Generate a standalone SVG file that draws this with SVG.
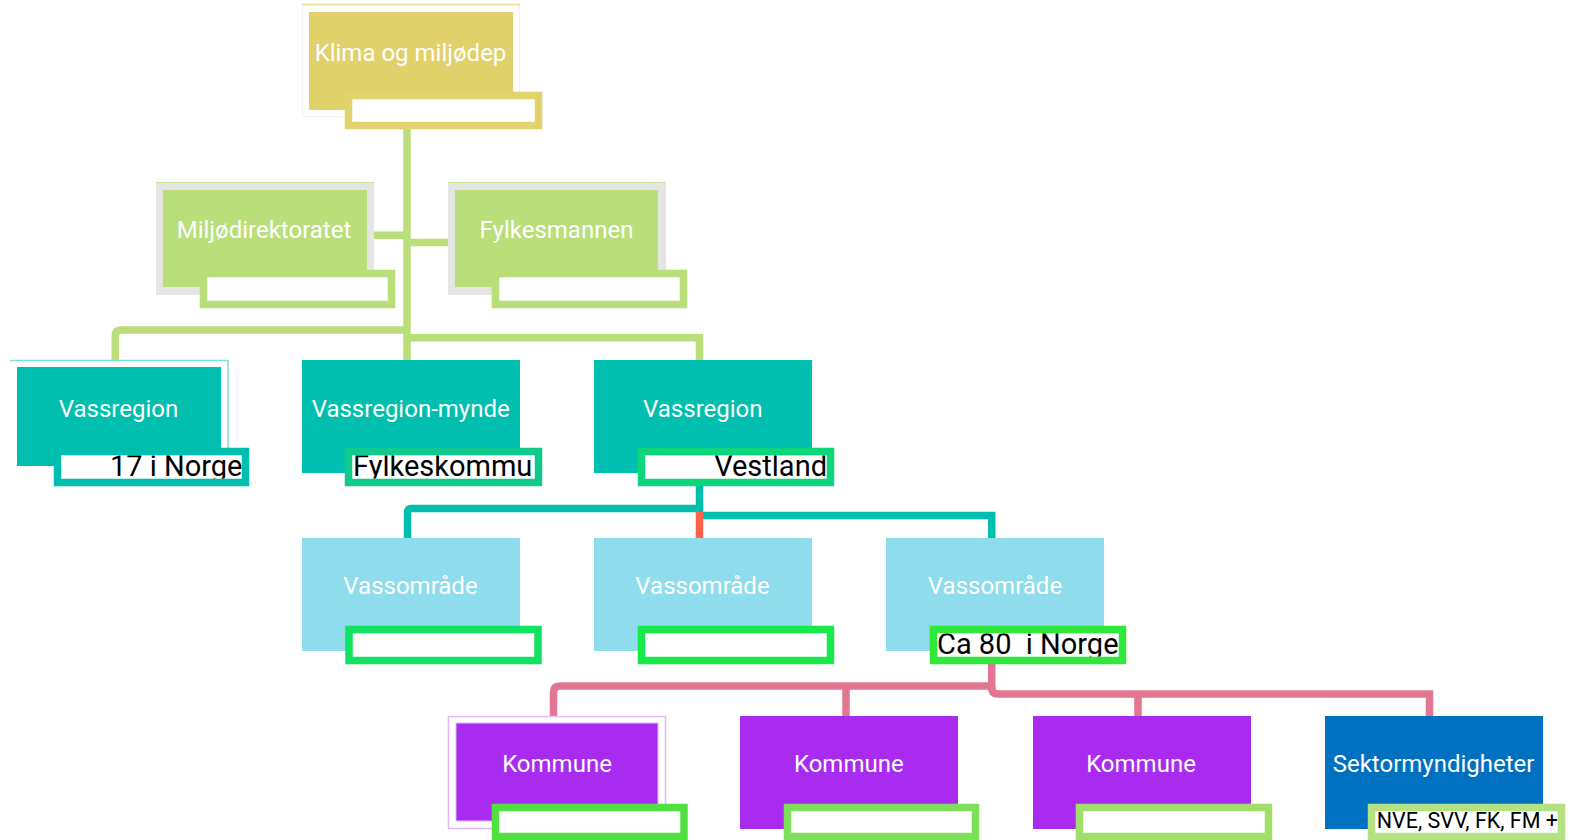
<svg xmlns="http://www.w3.org/2000/svg" width="1569" height="840" viewBox="0 0 1569 840">
<style>
.lbl{font-family:Roboto,"Liberation Sans",sans-serif;font-size:24px;fill:#ffffff;text-anchor:middle}
.sub{font-family:Roboto,"Liberation Sans",sans-serif;font-size:29px;fill:#000000;white-space:pre}
.box{fill:#ffffff;stroke-width:7.5}
.con{fill:none;stroke-width:7.5}
.g{stroke:#b9de7a}
.t{stroke:#00bfae}
.p{stroke:#e27590}
</style>
<defs>
<clipPath id="c1"><rect x="61" y="455.5" width="181.5" height="23"/></clipPath>
<clipPath id="c2"><rect x="352.5" y="455.5" width="182.5" height="23"/></clipPath>
<clipPath id="c3"><rect x="645" y="455.5" width="182" height="23"/></clipPath>
<clipPath id="c4"><rect x="937" y="633.5" width="182" height="23"/></clipPath>
<clipPath id="c5"><rect x="1375.5" y="811" width="182.5" height="22.5"/></clipPath>
</defs>
<rect width="1569" height="840" fill="#ffffff"/>

<g id="connectors">
<path class="con g" d="M407 129 V360"/>
<path class="con g" d="M366 235.3 H407"/>
<path class="con g" d="M407 242.5 H456"/>
<path class="con g" d="M407 330 H121.5 Q115.3 330 115.3 336 V361"/>
<path class="con g" d="M407 337.7 H699.5 V361"/>
<path class="con t" d="M699.5 485 V508.5 H412 Q407.5 508.5 407.5 513 V539"/>
<path class="con t" d="M699.5 515.5 H991.7 V539"/>
<path d="M699.5 512 V538" stroke="#fe6349" stroke-width="7.5" fill="none"/>
<path class="con p" d="M991.7 663 V686 H560 Q553.5 686 553.5 692.5 V717"/>
<path class="con p" d="M846 686 V717"/>
<path class="con p" d="M991.7 686 V688 Q991.7 694 998 694 H1429.5 V717"/>
<path class="con p" d="M1138 694 V717"/>
</g>

<g id="n-klima">
<rect x="302.5" y="4.5" width="217" height="112" fill="none" stroke="#f2f2f2" stroke-width="1"/>
<line x1="302" y1="4.5" x2="520" y2="4.5" stroke="#e8dc8a" stroke-width="1.5"/>
<rect x="309" y="12" width="204" height="98" fill="#e0d16a"/>
<text class="lbl" x="410.5" y="61">Klima og miljødep</text>
<rect class="box" x="348.5" y="95.5" width="190" height="30" stroke="#e1d46e"/>
</g>

<g id="n-miljodir">
<rect x="156" y="182" width="218" height="113" fill="#e5e6e4"/>
<line x1="156" y1="182.5" x2="374" y2="182.5" stroke="#c8e69a" stroke-width="1"/>
<rect x="163" y="190" width="204" height="97" fill="#b9de7a"/>
<text class="lbl" x="264" y="238">Miljødirektoratet</text>
<rect class="box" x="203.5" y="273.5" width="188" height="31" stroke="#b9de7a"/>
</g>

<g id="n-fylkesmannen">
<rect x="448" y="182" width="218" height="113" fill="#e5e6e4"/>
<line x1="448" y1="182.5" x2="666" y2="182.5" stroke="#c8e69a" stroke-width="1"/>
<rect x="455" y="190" width="203" height="97" fill="#b9de7a"/>
<text class="lbl" x="556.5" y="238">Fylkesmannen</text>
<rect class="box" x="495.5" y="273.5" width="188" height="31" stroke="#b9de7a"/>
</g>

<g id="n-vassregion-l">
<path d="M10 360.5 H228 V448" fill="none" stroke="#7fe0d6" stroke-width="1.5"/>
<rect x="17" y="367" width="204" height="99" fill="#00bfae"/>
<text class="lbl" x="118.5" y="416.7">Vassregion</text>
<rect class="box" x="57.5" y="451.5" width="188" height="31" stroke="#00bfae"/>
<text class="sub" x="242.5" y="476" text-anchor="end" clip-path="url(#c1)">17 i Norge</text>
</g>

<g id="n-vassregion-mynde">
<rect x="302" y="360" width="218" height="113" fill="#00bfae"/>
<text class="lbl" x="410.7" y="416.7">Vassregion-mynde</text>
<rect class="box" x="348.5" y="451.5" width="190" height="31" stroke="#0fc98d"/>
<text class="sub" x="353" y="476" clip-path="url(#c2)">Fylkeskommu</text>
</g>

<g id="n-vassregion-r">
<rect x="594" y="360" width="218" height="113" fill="#00bfae"/>
<text class="lbl" x="702.8" y="416.7">Vassregion</text>
<rect class="box" x="641.5" y="451.5" width="189" height="31" stroke="#0dd67b"/>
<text class="sub" x="827" y="476" text-anchor="end" clip-path="url(#c3)">Vestland</text>
</g>

<g id="n-vassomrade-1">
<rect x="302" y="538" width="218" height="113" fill="#8fdcec"/>
<text class="lbl" x="410.5" y="594">Vassområde</text>
<rect class="box" x="349" y="629.5" width="189" height="31" stroke="#12e262"/>
</g>

<g id="n-vassomrade-2">
<rect x="594" y="538" width="218" height="113" fill="#8fdcec"/>
<text class="lbl" x="702.5" y="594">Vassområde</text>
<rect class="box" x="641.5" y="629.5" width="189" height="31" stroke="#18e84a"/>
</g>

<g id="n-vassomrade-3">
<rect x="886" y="538" width="218" height="113" fill="#8fdcec"/>
<text class="lbl" x="995" y="594">Vassområde</text>
<rect class="box" x="933.5" y="629.5" width="189" height="31" stroke="#30e83c"/>
<text class="sub" x="937" y="654" clip-path="url(#c4)">Ca 80  i Norge</text>
</g>

<g id="n-kommune-1">
<rect x="448.5" y="716.5" width="217" height="112" fill="none" stroke="#e3b8f8" stroke-width="1.5"/>
<rect x="456" y="723" width="202" height="98" fill="#a92bf0" stroke="#e3b8f8" stroke-width="1"/>
<text class="lbl" x="557" y="772">Kommune</text>
<rect class="box" x="495.5" y="807.5" width="188.5" height="29" stroke="#50e040"/>
</g>

<g id="n-kommune-2">
<rect x="740" y="716" width="218" height="113" fill="#a92bf0"/>
<text class="lbl" x="848.8" y="772">Kommune</text>
<rect class="box" x="787.5" y="807.5" width="188" height="29" stroke="#7ee05a"/>
</g>

<g id="n-kommune-3">
<rect x="1033" y="716" width="218" height="113" fill="#a92bf0"/>
<text class="lbl" x="1141" y="772">Kommune</text>
<rect class="box" x="1079.5" y="807.5" width="189" height="29" stroke="#a0df6a"/>
</g>

<g id="n-sektor">
<rect x="1325" y="716" width="218" height="113" fill="#0070c0"/>
<text class="lbl" x="1433.6" y="772">Sektormyndigheter</text>
<rect class="box" x="1371.5" y="807.5" width="190" height="29" stroke="#b4e283"/>
<text class="sub" x="1558" y="828" text-anchor="end" style="font-size:21.5px" clip-path="url(#c5)">NVE, SVV, FK, FM +</text>
</g>
</svg>
